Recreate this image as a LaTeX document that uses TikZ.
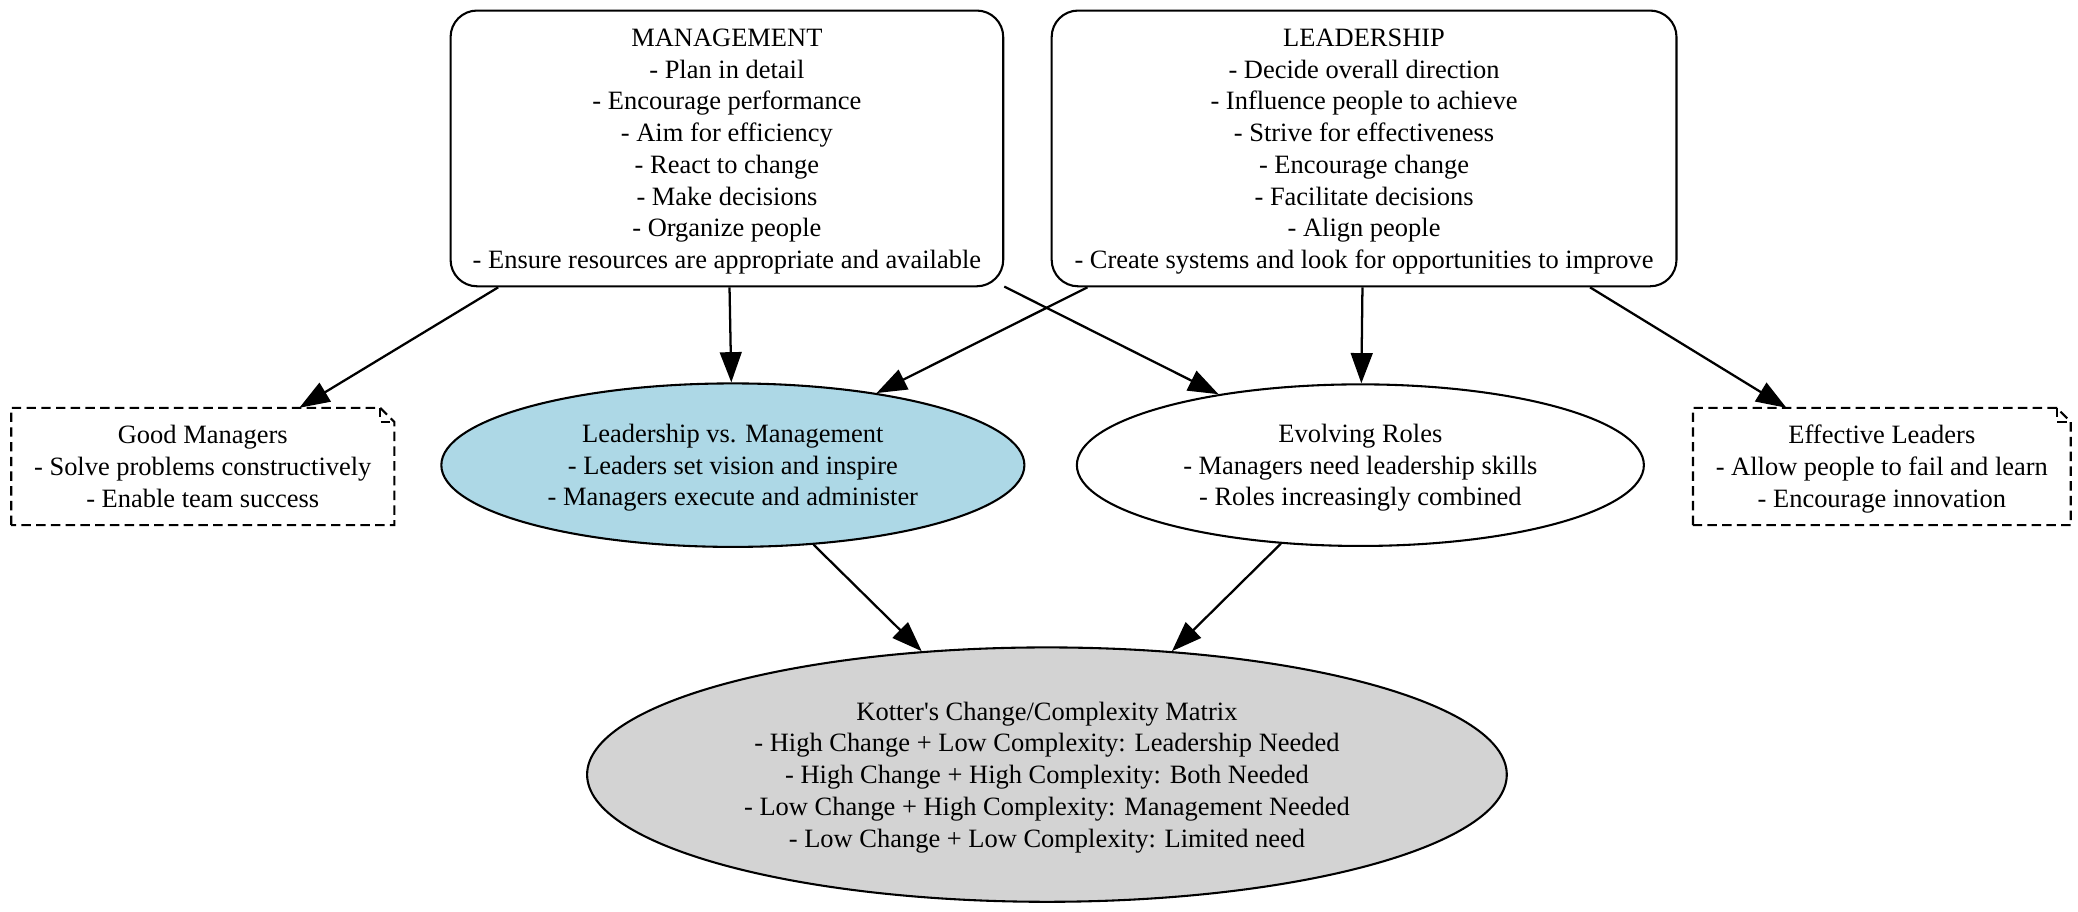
\documentclass[tikz,border=0pt]{standalone}
\usepackage{fontspec}
\setmainfont{Liberation Serif}[Ligatures=TeXOff]
\usetikzlibrary{arrows.meta,shapes.geometric}
\definecolor{lblue}{RGB}{173,216,230}
\definecolor{lgray}{RGB}{211,211,211}
\newcommand\mytopstrut{\rule{0pt}{14.56pt}}
\begin{document}
\begin{tikzpicture}[x=0.7012pt,y=-0.7012pt,
  every node/.style={font=\fontsize{14}{16.8}\selectfont, align=center, inner sep=0pt},
  rbox/.style={draw, line width=1.1pt, rounded corners=14pt, rectangle},
  oval/.style={draw, line width=1.1pt, ellipse},
  notebox/.style={rectangle},
  notedash/.style={line width=1.1pt, dash pattern=on 5pt off 2.8pt},
  conn/.style={line width=1.2pt, -{Triangle[length=16pt,width=11.5pt]}}
]
\useasboundingbox (0,0) rectangle (1568,688);

\node[rbox, minimum width=292.4pt, minimum height=145.9pt] (mgmt) at (548.5,112)
  {\mytopstrut MANAGEMENT\\- Plan in detail\\- Encourage performance\\- Aim for efficiency\\- React to change\\- Make decisions\\- Organize people\\- Ensure resources are appropriate and available\strut};

\node[rbox, minimum width=330.6pt, minimum height=145.9pt] (lead) at (1029.3,112)
  {\mytopstrut LEADERSHIP\\- Decide overall direction\\- Influence people to achieve\\- Strive for effectiveness\\- Encourage change\\- Facilitate decisions\\- Align people\\- Create systems and look for opportunities to improve\strut};

\node[notebox, minimum width=202.3pt, minimum height=61.7pt] (gm) at (153,352)
  {\mytopstrut Good Managers\\- Solve problems constructively\\- Enable team success\strut};
\draw[notedash] (gm.south west) -- (gm.north west) -- ([xshift=-7.5pt]gm.north east) -- ([yshift=-7.5pt]gm.north east) -- (gm.south east) -- cycle;
\draw[notedash] ([xshift=-7.5pt]gm.north east) -- ([xshift=-7.5pt,yshift=-7.5pt]gm.north east) -- ([yshift=-7.5pt]gm.north east);

\node[notebox, minimum width=199.5pt, minimum height=61.7pt] (effl) at (1420,352)
  {\mytopstrut Effective Leaders\\- Allow people to fail and learn\\- Encourage innovation\strut};
\draw[notedash] (effl.south west) -- (effl.north west) -- ([xshift=-7.5pt]effl.north east) -- ([yshift=-7.5pt]effl.north east) -- (effl.south east) -- cycle;
\draw[notedash] ([xshift=-7.5pt]effl.north east) -- ([xshift=-7.5pt,yshift=-7.5pt]effl.north east) -- ([yshift=-7.5pt]effl.north east);

\node[oval, fill=lblue, minimum width=308.5pt, minimum height=86.5pt] (lvm) at (553,351)
  {\mytopstrut Leadership vs. Management\\- Leaders set vision and inspire\\- Managers execute and administer\strut};

\node[oval, fill=white, minimum width=300pt, minimum height=85.5pt] (evo) at (1026.5,351)
  {\mytopstrut Evolving Roles\\- Managers need leadership skills\\- Roles increasingly combined\strut};

\node[oval, fill=lgray, minimum width=486.6pt, minimum height=134.6pt] (kot) at (790,584.5)
  {\mytopstrut Kotter's Change/Complexity Matrix\\- High Change + Low Complexity: Leadership Needed\\- High Change + High Complexity: Both Needed\\- Low Change + High Complexity: Management Needed\\- Low Change + Low Complexity: Limited need\strut};

\draw[conn] (mgmt) -- (gm);
\draw[conn] (mgmt) -- (lvm);
\draw[conn] (mgmt) -- (evo);
\draw[conn] (lead) -- (lvm);
\draw[conn] (lead) -- (evo);
\draw[conn] (lead) -- (effl);
\draw[conn] (lvm) -- (kot);
\draw[conn] (evo) -- (kot);
\end{tikzpicture}
\end{document}
